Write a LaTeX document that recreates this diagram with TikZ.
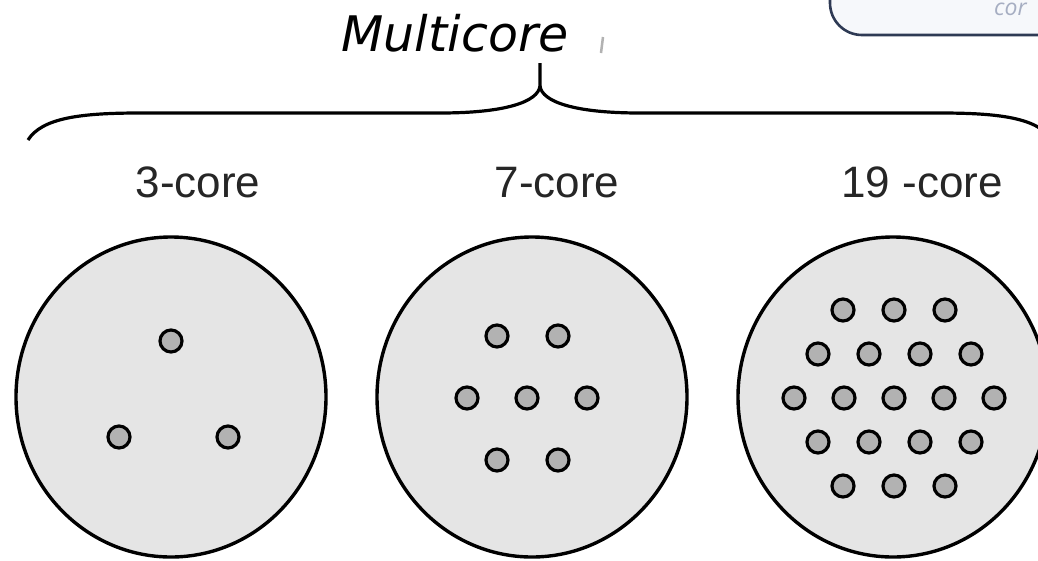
\documentclass[tikz,border=0pt]{standalone}
\usepackage{fontspec}
\setmainfont{Liberation Sans}
\newfontfamily\titlefont{DejaVu Sans}
\newfontfamily\boxfont{Open Sans}
\usetikzlibrary{shapes.geometric}
\definecolor{fibrefill}{HTML}{E5E5E5}
\definecolor{corefill}{HTML}{B2B2B2}
\definecolor{boxline}{HTML}{2E3A54}
\definecolor{boxfill}{HTML}{F6F8FB}
\definecolor{boxtext}{HTML}{A6AEC2}
\tikzset{
  fibre/.style={ellipse, draw=black, line width=3.4pt, fill=fibrefill, minimum width=310pt, minimum height=320pt, inner sep=0pt},
  coredot/.style={circle, draw=black, line width=3.2pt, fill=corefill, minimum size=22pt, inner sep=0pt},
  label/.style={font=\fontsize{44}{48}\selectfont, anchor=base, text=black!85},
  bracestyle/.style={line width=3.2pt, draw=black}
}
\begin{document}
\begin{tikzpicture}[x=1pt,y=-1pt]
\useasboundingbox (0,0) rectangle (1038,560);
\clip (0,0) rectangle (1038,560);
\fill[white] (0,0) rectangle (1038,560);
% top-right box fragment
\path[draw=boxline, fill=boxfill, line width=2.6pt, rounded corners=32pt] (830,-60) rectangle (1100,35);
\node[anchor=base west, inner sep=0pt, text=boxtext, font=\boxfont\itshape\fontsize{23}{25}\selectfont] (boxtxt) at (994,15) {cor};
% title
\node[anchor=base, inner sep=0pt, font=\titlefont\itshape\fontsize{49}{53}\selectfont] (title) at (455,51) {Multicore};
\draw[line width=2.5pt, gray!60] (603,37) -- (601,53);
% brace
\coordinate (bl) at (28,140);
\coordinate (br) at (1052,140);
\coordinate (bc) at (540,86);
\coordinate (bt) at (540,63);
\draw[bracestyle] (bl) .. controls (42,118) and (80,113) .. (140,113) -- (440,113)
   .. controls (505,113) and (538,102) .. (bc) -- (bt);
\draw[bracestyle] (bc) .. controls (542,102) and (575,113) .. (640,113) -- (940,113)
   .. controls (1000,113) and (1038,118) .. (br);
% labels
\node[label] (l1) at (198,197) {3-core};
\node[label] (l2) at (557,197) {7-core};
\node[label] (l3) at (922,197) {19 -core};
% fibres
\node[fibre] (f1) at (171,397) {};
\node[fibre] (f2) at (532,397) {};
\node[fibre] (f3) at (893,397) {};
% 3-core
\node[coredot] (a1) at (171,341) {};
\node[coredot] (a2) at (119,437) {};
\node[coredot] (a3) at (228,437) {};
% 7-core
\node[coredot] (b1) at (497,336) {};
\node[coredot] (b2) at (558,336) {};
\node[coredot] (b3) at (467,398) {};
\node[coredot] (b4) at (527,398) {};
\node[coredot] (b5) at (587,398) {};
\node[coredot] (b6) at (497,460) {};
\node[coredot] (b7) at (558,460) {};
% 19-core
\foreach \x [count=\i] in {843,894,945} {\node[coredot] (c1\i) at (\x,310) {};}
\foreach \x [count=\i] in {818,869,920,971} {\node[coredot] (c2\i) at (\x,354) {};}
\foreach \x [count=\i] in {794,844,894,944,994} {\node[coredot] (c3\i) at (\x,398) {};}
\foreach \x [count=\i] in {818,869,920,971} {\node[coredot] (c4\i) at (\x,442) {};}
\foreach \x [count=\i] in {843,894,945} {\node[coredot] (c5\i) at (\x,486) {};}
\end{tikzpicture}
\end{document}
